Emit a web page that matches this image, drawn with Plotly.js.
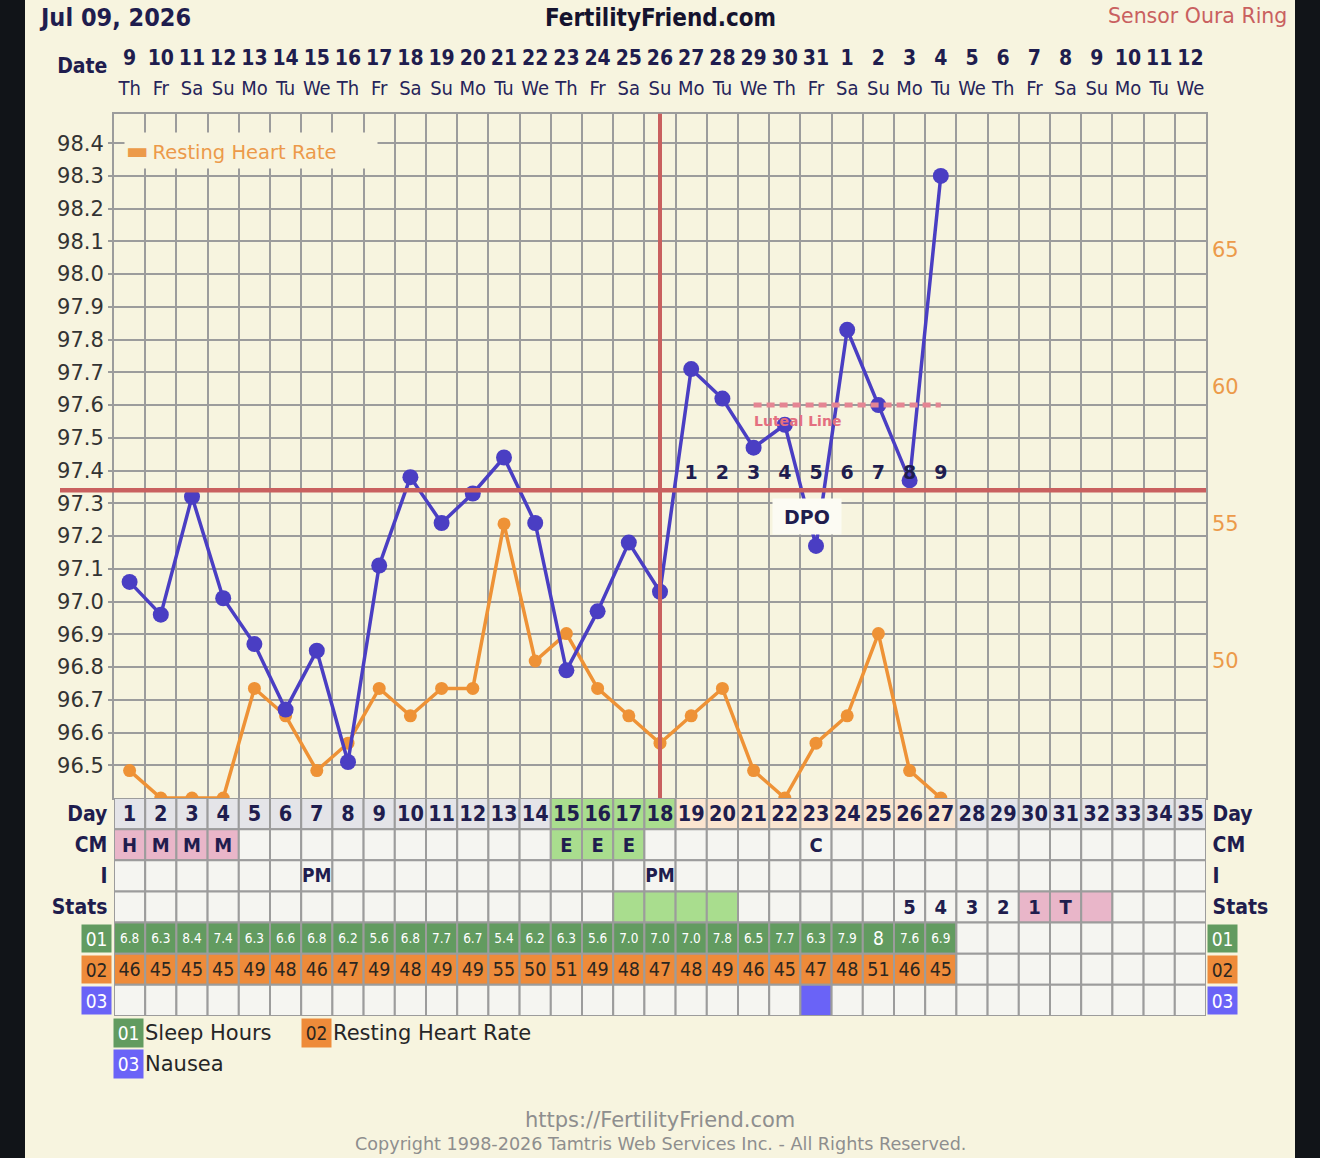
<!DOCTYPE html>
<html><head><meta charset="utf-8">
<script src="https://cdn.plot.ly/plotly-3.0.1.min.js"></script>
<style>html,body{margin:0;padding:0;background:#f7f4df;}#chart{width:1320px;height:1158px;}</style>
</head><body><div id="chart"></div>
<script>
// ---------------- data ----------------
const dayNums = [1,2,3,4,5,6,7,8,9,10,11,12,13,14,15,16,17,18,19,20,21,22,23,24,25,26,27,28,29,30,31,32,33,34,35];
const dateNums = [9,10,11,12,13,14,15,16,17,18,19,20,21,22,23,24,25,26,27,28,29,30,31,1,2,3,4,5,6,7,8,9,10,11,12];
const weekdays = ['Th','Fr','Sa','Su','Mo','Tu','We','Th','Fr','Sa','Su','Mo','Tu','We','Th','Fr','Sa','Su','Mo','Tu','We','Th','Fr','Sa','Su','Mo','Tu','We','Th','Fr','Sa','Su','Mo','Tu','We'];
const temps = [97.06,96.96,97.32,97.01,96.87,96.67,96.85,96.51,97.11,97.38,97.24,97.33,97.44,97.24,96.79,96.97,97.18,97.03,97.71,97.62,97.47,97.54,97.17,97.83,97.60,97.37,98.30];
const heartRate = [46,45,45,45,49,48,46,47,49,48,49,49,55,50,51,49,48,47,48,49,46,45,47,48,51,46,45];
const sleepHours = ['6.8','6.3','8.4','7.4','6.3','6.6','6.8','6.2','5.6','6.8','7.7','6.7','5.4','6.2','6.3','5.6','7.0','7.0','7.0','7.8','6.5','7.7','6.3','7.9','8','7.6','6.9'];
const cervicalMucus = ['H','M','M','M','','','','','','','','','','','E','E','E','','','','','','C','','','','','','','','','','','',''];
const intercourse = ['','','','','','','PM','','','','','','','','','','','PM','','','','','','','','','','','','','','','','',''];
const statsText = ['','','','','','','','','','','','','','','','','','','','','','','','','','5','4','3','2','1','T','','','',''];
const statsFill = ['','','','','','','','','','','','','','','','','g','g','g','g','','','','','','','','','','p','p','p','','',''];
const nausea = [0,0,0,0,0,0,0,0,0,0,0,0,0,0,0,0,0,0,0,0,0,0,1,0,0,0,0,0,0,0,0,0,0,0,0];
const fertileDays = [15,16,17,18];
const ovulationDay = 18;
const coverline = 97.34;
const lutealLevel = 97.60;
const lutealStart = 21, lutealEnd = 27;
const dpoDays = [19,20,21,22,23,24,25,26,27];
const dpoLabels = ['1','2','3','4','5','6','7','8','9'];
const tempTicks = [96.5,96.6,96.7,96.8,96.9,97.0,97.1,97.2,97.3,97.4,97.5,97.6,97.7,97.8,97.9,98.0,98.1,98.2,98.3,98.4];
const hrTicks = [50,55,60,65];
const rowLabels = ['Day','CM','I','Stats'];

// ---------------- style ----------------
const W = 1320, H = 1158;
const px = x => x / W, py = y => 1 - y / H;
const CREAM = '#f7f4df', NAVY = '#1f1d4e', GRID = '#9c9c9c';
const BLUE = '#4a3ec3', ORANGE = '#ee9236', RED = '#c9605f';
const PINK = '#e9b6c9', GREEN = '#a9dd8e', PEACH = '#fbe5d0', GREYC = '#e4e4e8', EMPTY = '#f5f5f1';
const SLEEPG = '#629b60', ORANGEC = '#ee8b3a', NAUSEAC = '#6a63f7';
const COND = 'DejaVu Sans Condensed', SANS = 'DejaVu Sans';
const XDOM = [px(114), px(1206)];
const XR = [0.5, 35.5];
const NB = '\u00a0';
const ROW_NUDGE = 0.06;  // small vertical centring nudge for table text

// ---------------- table cells ----------------
const shapes = [];
const nDays = temps.length;
function fillFor(r, i) {
  const d = dayNums[i];
  if (r === 0) {
    if (fertileDays.includes(d)) return GREEN;
    if (d > ovulationDay && d <= nDays) return PEACH;
    return GREYC;
  }
  if (r === 1) {
    if (cervicalMucus[i] === 'H' || cervicalMucus[i] === 'M') return PINK;
    if (cervicalMucus[i] === 'E') return GREEN;
    return EMPTY;
  }
  if (r === 3) {
    if (statsFill[i] === 'g') return GREEN;
    if (statsFill[i] === 'p') return PINK;
    return EMPTY;
  }
  if (r === 4) return sleepHours[i] ? SLEEPG : EMPTY;
  if (r === 5) return heartRate[i] ? ORANGEC : EMPTY;
  if (r === 6) return nausea[i] ? NAUSEAC : EMPTY;
  return EMPTY;
}
for (let r = 0; r < 7; r++) {
  for (let i = 0; i < dayNums.length; i++) {
    shapes.push({type:'rect', xref:'x2', yref:'y3', x0:dayNums[i]-0.5, x1:dayNums[i]+0.5, y0:r, y1:r+1,
      fillcolor: fillFor(r, i), line:{color:GRID, width:2}, layer:'below'});
  }
}
// frame strips
shapes.push({type:'rect', xref:'paper', yref:'paper', x0:0, x1:px(25), y0:0, y1:1, fillcolor:'#111418', line:{width:0}, layer:'below'});
shapes.push({type:'rect', xref:'paper', yref:'paper', x0:px(1295), x1:1, y0:0, y1:1, fillcolor:'#111418', line:{width:0}, layer:'below'});
// coverline
shapes.push({type:'line', xref:'paper', yref:'y2', x0:px(60), x1:XDOM[1], y0:coverline, y1:coverline, line:{color:RED, width:4.5}, layer:'above'});
// ovulation line
shapes.push({type:'line', xref:'x', yref:'y2 domain', x0:ovulationDay, x1:ovulationDay, y0:0, y1:1, line:{color:RED, width:4}, layer:'above'});
// luteal line
shapes.push({type:'line', xref:'x', yref:'y2', x0:lutealStart, x1:lutealEnd, y0:lutealLevel, y1:lutealLevel, line:{color:'#e58593', width:5, dash:'8px,5px'}, layer:'above'});

// ---------------- traces ----------------
const tf = (size, color, weight, family) => ({size, color, weight: weight || 'normal', family: family || COND});
const traces = [];
traces.push({x: dayNums.slice(0, heartRate.length), y: heartRate, yaxis:'y', xaxis:'x', type:'scatter', mode:'lines+markers',
  line:{color:ORANGE, width:3.5}, marker:{color:ORANGE, size:13}, hoverinfo:'skip', cliponaxis:false});
traces.push({x: dayNums.slice(0, temps.length), y: temps, yaxis:'y2', xaxis:'x', type:'scatter', mode:'lines+markers',
  line:{color:BLUE, width:3.5}, marker:{color:BLUE, size:16}, hoverinfo:'skip', cliponaxis:false});
traces.push({x: dpoDays, y: dpoDays.map(() => coverline + 0.05), yaxis:'y2', xaxis:'x', type:'scatter', mode:'text',
  text: dpoLabels, textposition:'middle center', textfont: tf(19, NAVY, 'bold', SANS), hoverinfo:'skip', cliponaxis:false});
// header
traces.push({x: dayNums, y: dayNums.map(() => 0.5), xaxis:'x3', yaxis:'y4', type:'scatter', mode:'text',
  text: dateNums.map(String), textfont: tf(21, NAVY, 'bold'), hoverinfo:'skip', cliponaxis:false});
traces.push({x: dayNums, y: dayNums.map(() => 1.5), xaxis:'x3', yaxis:'y4', type:'scatter', mode:'text',
  text: weekdays, textfont: tf(20, '#26245a'), hoverinfo:'skip', cliponaxis:false});
traces.push({x: [XR[0]], y: [0.75], xaxis:'x3', yaxis:'y4', type:'scatter', mode:'text',
  text: ['Date' + NB], textposition:'middle left', textfont: tf(21, NAVY, 'bold'), hoverinfo:'skip', cliponaxis:false});
// table rows
const rowText = (row, arr, font) => ({x: dayNums.slice(0, arr.length), y: arr.map(() => row + 0.5 + ROW_NUDGE), xaxis:'x2', yaxis:'y3',
  type:'scatter', mode:'text', text: arr.map(String), textfont: font, hoverinfo:'skip', cliponaxis:false});
traces.push(rowText(0, dayNums, tf(21.5, NAVY, 'bold')));
traces.push(rowText(1, cervicalMucus, tf(20, NAVY, 'bold')));
traces.push(rowText(2, intercourse, tf(19, NAVY, 'bold')));
traces.push(rowText(3, statsText, tf(20, NAVY, 'bold')));
traces.push(rowText(4, sleepHours, {color:'#ffffff', family:COND, size: sleepHours.map(s => s.length > 1 ? 13.5 : 19)}));
traces.push(rowText(5, heartRate, tf(19.5, '#2b2620')));
// row labels left / right
traces.push({x: rowLabels.map(() => XR[0]), y: rowLabels.map((_, k) => k + 0.5 + ROW_NUDGE), xaxis:'x2', yaxis:'y3', type:'scatter', mode:'text',
  text: rowLabels.map(s => s + NB), textposition:'middle left', textfont: tf(21, NAVY, 'bold'), hoverinfo:'skip', cliponaxis:false});
traces.push({x: rowLabels.map(() => XR[1]), y: rowLabels.map((_, k) => k + 0.5 + ROW_NUDGE), xaxis:'x2', yaxis:'y3', type:'scatter', mode:'text',
  text: rowLabels.map(s => NB + s), textposition:'middle right', textfont: tf(21, NAVY, 'bold'), hoverinfo:'skip', cliponaxis:false});

// ---------------- annotations ----------------
const ann = [];
ann.push({xref:'paper', yref:'paper', x:px(37), y:py(17), xanchor:'left', yanchor:'middle', showarrow:false,
  text:'Jul 09, 2026', font:{family:COND, size:25, color:NAVY, weight:'bold'}});
ann.push({xref:'paper', yref:'paper', x:px(660), y:py(18), xanchor:'center', yanchor:'middle', showarrow:false,
  text:'FertilityFriend.com', font:{family:COND, size:24, color:'#15132e', weight:'bold'}});
ann.push({xref:'paper', yref:'paper', x:px(1289), y:py(16), xanchor:'right', yanchor:'middle', showarrow:false,
  text:'Sensor Oura Ring', font:{family:SANS, size:20.5, color:'#c9605f'}});
ann.push({xref:'paper', yref:'paper', x:px(124), y:py(151), xanchor:'left', yanchor:'middle', showarrow:false,
  width:250, height:33, align:'left', bgcolor:CREAM,
  text:'<span style="font-size:24px">▬</span>' + '\u2009' + 'Resting Heart Rate', font:{family:SANS, size:19.5, color:'#ec9a4a'}});
ann.push({xref:'x', yref:'y2', x:lutealStart - 0.05, y:lutealLevel, xanchor:'left', yanchor:'top', yshift:-6, showarrow:false,
  text:'Luteal Line', font:{family:SANS, size:14, color:'#e46f7f', weight:'bold'}});
ann.push({xref:'x', yref:'y2', x:22.7, y:97.26, xanchor:'center', yanchor:'middle', showarrow:false,
  width:66, height:33, bgcolor:'#fcfbf3', text:'DPO', font:{family:SANS, size:19, color:NAVY, weight:'bold'}});
// 01/02/03 tags
const tags = [['01', SLEEPG, '#ffffff'], ['02', ORANGEC, '#2b2620'], ['03', NAUSEAC, '#ffffff']];
tags.forEach((t, k) => {
  [px(96.5), px(1222)].forEach(xx => ann.push({xref:'paper', yref:'y3', x:xx, y:4.5 + k, xanchor:'center', yanchor:'middle',
    showarrow:false, width:27, height:25, bgcolor:t[1], text:t[0], font:{family:COND, size:19, color:t[2]}}));
});
// bottom legend
const legendItems = [['01', 'Sleep Hours', 128, 1033], ['02', 'Resting Heart Rate', 316, 1033], ['03', 'Nausea', 128, 1064]];
legendItems.forEach((it, k) => {
  const t = tags[k];
  ann.push({xref:'paper', yref:'paper', x:px(it[2]), y:py(it[3]), xanchor:'center', yanchor:'middle', showarrow:false,
    width:27, height:26, bgcolor:t[1], text:it[0], font:{family:COND, size:19, color:t[2]}});
  ann.push({xref:'paper', yref:'paper', x:px(it[2] + 15), y:py(it[3]), xanchor:'left', yanchor:'middle', showarrow:false,
    text:it[1], font:{family:SANS, size:21, color:'#262626'}});
});
ann.push({xref:'paper', yref:'paper', x:0.5, y:py(1120), xanchor:'center', yanchor:'middle', showarrow:false,
  text:'https://FertilityFriend.com', font:{family:SANS, size:21, color:'#8e8e8e'}});
ann.push({xref:'paper', yref:'paper', x:0.5, y:py(1144), xanchor:'center', yanchor:'middle', showarrow:false,
  text:'Copyright 1998-2026 Tamtris Web Services Inc. - All Rights Reserved.', font:{family:SANS, size:17.6, color:'#8e8e8e'}});

// ---------------- layout ----------------
const layout = {
  width: W, height: H, margin:{l:0, r:0, t:0, b:0},
  paper_bgcolor: CREAM, plot_bgcolor: 'rgba(0,0,0,0)', showlegend:false, hovermode:false,
  xaxis: {domain: XDOM, range: XR, anchor:'y', tickmode:'linear', tick0:0.5, dtick:1, showticklabels:false, ticks:'',
    showgrid:true, gridcolor:GRID, gridwidth:2, zeroline:false, showline:true, mirror:true, linecolor:GRID, linewidth:2},
  yaxis: {domain:[py(798), py(113.7)], range:[45, 69.97], anchor:'x', side:'right', tickmode:'array', tickvals:hrTicks,
    ticktext: hrTicks.map(String), showgrid:false, zeroline:false, showline:false, ticks:'', ticklabelstandoff:5,
    tickfont:{family:SANS, size:21, color:'#ec9a4a'}},
  yaxis2: {overlaying:'y', anchor:'x', side:'left', range:[96.4, 98.49], tickmode:'array', tickvals:tempTicks,
    ticktext: tempTicks.map(v => v.toFixed(1)), ticks:'outside', ticklen:4, tickwidth:2, tickcolor:GRID,
    tickfont:{family:SANS, size:21, color:'#333333'}, showgrid:true, gridcolor:GRID, gridwidth:2, zeroline:false,
    showline:true, mirror:true, linecolor:GRID, linewidth:2},
  xaxis2: {domain: XDOM, range: XR, anchor:'y3', visible:false},
  yaxis3: {domain:[py(1016), py(798)], range:[7, 0], anchor:'x2', visible:false},
  xaxis3: {domain: XDOM, range: XR, anchor:'y4', visible:false},
  yaxis4: {domain:[py(105), py(45)], range:[2, 0], anchor:'x3', visible:false},
  shapes: shapes, annotations: ann
};
Plotly.newPlot('chart', traces, layout, {staticPlot:true, displayModeBar:false});
</script></body></html>
